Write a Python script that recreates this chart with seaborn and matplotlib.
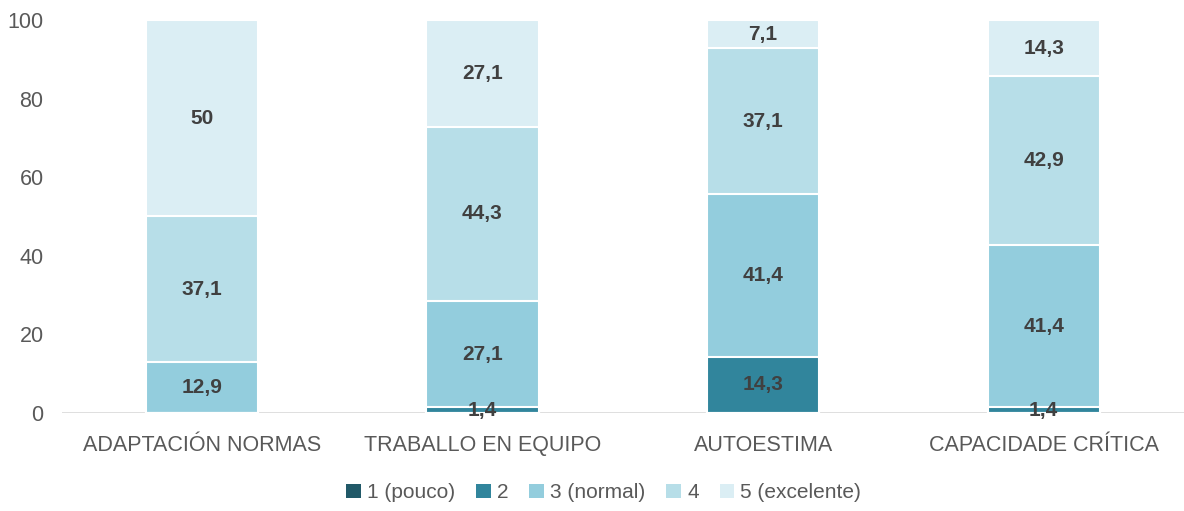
import numpy as np
import pandas as pd
import seaborn as sns
from matplotlib import pyplot as plt
from matplotlib.patches import Patch

CATEGORIES = ["ADAPTACIÓN NORMAS", "TRABALLO EN EQUIPO", "AUTOESTIMA", "CAPACIDADE CRÍTICA"]
SERIES = ["1 (pouco)", "2", "3 (normal)", "4", "5 (excelente)"]
VALUES = {
    "1 (pouco)": [0, 0, 0, 0],
    "2": [0, 1.4, 14.3, 1.4],
    "3 (normal)": [12.9, 27.1, 41.4, 41.4],
    "4": [37.1, 44.3, 37.1, 42.9],
    "5 (excelente)": [50, 27.1, 7.1, 14.3],
}
COLORS = ["#215968", "#31859c", "#93cddd", "#b7dee8", "#dbeef4"]

sns.set_style("white")
plt.rcParams['font.family'] = ['Liberation Sans Narrow', 'Liberation Sans', 'DejaVu Sans']

fig = plt.figure(figsize=(11.84, 5.11), dpi=100)
ax = fig.add_axes([0.052, 0.192, 0.948, 0.769])

# stacked bars: draw cumulative totals, tallest first
cum = np.cumsum(np.array([VALUES[s] for s in SERIES]), axis=0)
for i in range(len(SERIES) - 1, -1, -1):
    df = pd.DataFrame({"cat": CATEGORIES, "val": cum[i]})
    sns.barplot(data=df, x="cat", y="val", color=COLORS[i], width=0.4,
                edgecolor="white", linewidth=1.5, ax=ax, saturation=1)

# value labels
for i, s in enumerate(SERIES):
    for j, v in enumerate(VALUES[s]):
        if v == 0:
            continue
        mid = cum[i][j] - v / 2
        txt = ("%g" % v).replace(".", ",")
        ax.text(j, mid, txt, ha="center", va="center", fontsize=15,
                color="#404040", fontweight="semibold")

ax.set_xlim(-0.5, 3.5)
ax.set_ylim(0, 100)
ax.set_yticks([0, 20, 40, 60, 80, 100])
ax.set_xlabel("")
ax.set_ylabel("")
ax.tick_params(axis="both", labelsize=15.5, colors="#595959", length=0)
ax.tick_params(axis="x", pad=16)
ax.tick_params(axis="y", pad=13)
for sp in ax.spines.values():
    sp.set_visible(False)
ax.axhline(0, color="#d9d9d9", linewidth=1.2, zorder=0)

handles = [Patch(facecolor=c, edgecolor="none") for c in COLORS]
fig.legend(handles, SERIES, loc="lower center", ncol=5, frameon=False,
           bbox_to_anchor=(0.51, -0.02), fontsize=15, labelcolor="#595959",
           handlelength=0.7, handleheight=0.7, handletextpad=0.3, columnspacing=1.0)

fig.savefig("out.png", dpi=100)
